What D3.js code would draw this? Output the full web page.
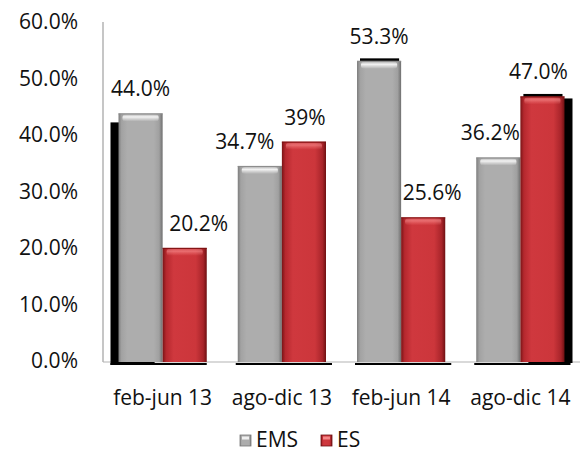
<html>
<head>
<meta charset="utf-8">
<title>EMS vs ES</title>
<script src="https://cdn.jsdelivr.net/npm/d3@7"></script>
<style>
  body { margin: 0; background: #fff; }
  text { font-family: "Open Sans", Lato, sans-serif; fill: #111; }
</style>
</head>
<body>
<script>
// data
var periods = ["feb-jun 13", "ago-dic 13", "feb-jun 14", "ago-dic 14"];
var series = ["EMS", "ES"];
var emsValues = [44.0, 34.7, 53.3, 36.2];
var esValues = [20.2, 39, 25.6, 47.0];
var valueLabels = [["44.0%", "20.2%"], ["34.7%", "39%"], ["53.3%", "25.6%"], ["36.2%", "47.0%"]];
var yTicks = [0, 10, 20, 30, 40, 50, 60];

// small label nudges so they don't collide (like excel did)
var labelDx = [[0, 14], [-15, 1], [0, 9], [-8, -4]];

var w = 582, h = 452;
var svg = d3.select("body").append("svg").attr("width", w).attr("height", h);

var x0 = d3.scaleBand().domain(periods).range([103, 580]).paddingInner(0.26).paddingOuter(0.13);
var x1 = d3.scaleBand().domain(series).range([0, x0.bandwidth()]);
var y = d3.scaleLinear().domain([0, 60]).range([362, 23]);

var rows = periods.map(function(p, i) {
    return { period: p, i: i, vals: [
        { s: "EMS", v: emsValues[i], label: valueLabels[i][0], dx: labelDx[i][0] },
        { s: "ES", v: esValues[i], label: valueLabels[i][1], dx: labelDx[i][1] }
    ] };
});

// gradients
var defs = svg.append("defs");
function hGrad(id, stops) {
    var g = defs.append("linearGradient").attr("id", id).attr("x1", 0).attr("x2", 1).attr("y1", 0).attr("y2", 0);
    stops.forEach(function(s) { g.append("stop").attr("offset", s[0]).attr("stop-color", s[1]); });
}
hGrad("gEMS", [[0, "#7d7d7d"], [0.07, "#a2a2a2"], [0.2, "#adadad"], [0.8, "#adadad"], [0.92, "#a0a0a0"], [1, "#6f6f6f"]]);
hGrad("gES", [[0, "#7a1416"], [0.08, "#b5282e"], [0.25, "#cf383e"], [0.75, "#cc363b"], [0.92, "#a8242a"], [1, "#6e1012"]]);
var tg = defs.append("linearGradient").attr("id", "gTop").attr("x1", 0).attr("x2", 0).attr("y1", 0).attr("y2", 1);
tg.append("stop").attr("offset", 0).attr("stop-color", "#fff").attr("stop-opacity", 0.15);
tg.append("stop").attr("offset", 0.35).attr("stop-color", "#fff").attr("stop-opacity", 0.85);
tg.append("stop").attr("offset", 1).attr("stop-color", "#fff").attr("stop-opacity", 0);
var tr = defs.append("linearGradient").attr("id", "gTopR").attr("x1", 0).attr("x2", 0).attr("y1", 0).attr("y2", 1);
tr.append("stop").attr("offset", 0).attr("stop-color", "#ffb0b0").attr("stop-opacity", 0.2);
tr.append("stop").attr("offset", 0.35).attr("stop-color", "#ff9a9a").attr("stop-opacity", 0.55);
tr.append("stop").attr("offset", 1).attr("stop-color", "#ff8080").attr("stop-opacity", 0);

// y axis labels
svg.append("g").selectAll("text").data(yTicks).enter().append("text")
    .attr("x", 78).attr("y", function(d) { return y(d) - 2; })
    .attr("text-anchor", "end").attr("dominant-baseline", "central")
    .style("font-size", "21px")
    .text(function(d) { return d.toFixed(1) + "%"; });

// axis lines
svg.append("line").attr("x1", 103).attr("x2", 103).attr("y1", 22).attr("y2", y(0))
    .attr("stroke", "#a0a0a0").attr("stroke-width", 1.2);
svg.append("line").attr("x1", 103).attr("x2", 580).attr("y1", y(0)).attr("y2", y(0))
    .attr("stroke", "#b4b4b4").attr("stroke-width", 1.2);

// black drop shadow, only peeks out at the outer ends of the chart
var shadowLayer = svg.append("g");
var firstBar = rows[0].vals[0], lastBar = rows[rows.length - 1].vals[1];
shadowLayer.append("rect")
    .attr("x", x0(periods[0]) + x1("EMS") - 8).attr("width", x1.bandwidth())
    .attr("y", y(firstBar.v) + 9).attr("height", y(0) + 3 - y(firstBar.v) - 9)
    .attr("fill", "#000");
shadowLayer.append("rect")
    .attr("x", x0(periods[3]) + x1("ES") + 8).attr("width", x1.bandwidth())
    .attr("y", y(lastBar.v) + 2).attr("height", y(0) + 1 - y(lastBar.v) - 2)
    .attr("fill", "#000");
// thin black shadow edges under the groups and above the tallest tops
rows.forEach(function(r) {
    shadowLayer.append("rect")
        .attr("x", x0(r.period) - 8 + (r.i === 0 ? 0 : 6)).attr("width", x0.bandwidth() + 8)
        .attr("y", y(0) + 1).attr("height", 2).attr("fill", "#000");
});
[rows[2].vals[0], lastBar].forEach(function(d, k) {
    var p = k === 0 ? periods[2] : periods[3];
    shadowLayer.append("rect")
        .attr("x", x0(p) + x1(d.s) + 3).attr("width", x1.bandwidth() - 5)
        .attr("y", y(d.v) - 2.5).attr("height", 4).attr("fill", "#000");
});

var groups = svg.selectAll(".grp").data(rows).enter().append("g").attr("class", "grp")
    .attr("transform", function(d) { return "translate(" + x0(d.period) + ",0)"; });

var bars = groups.selectAll("g.bar").data(function(d) { return d.vals; }).enter().append("g").attr("class", "bar");
bars.append("rect")
    .attr("x", function(d) { return x1(d.s); })
    .attr("width", x1.bandwidth())
    .attr("y", function(d) { return y(d.v); })
    .attr("height", function(d) { return y(0) - y(d.v); })
    .attr("fill", function(d) { return "url(#g" + d.s + ")"; });
// top bevel
bars.append("rect")
    .attr("x", function(d) { return x1(d.s) + 4; })
    .attr("width", x1.bandwidth() - 8)
    .attr("y", function(d) { return y(d.v) + 1; })
    .attr("height", 7).attr("rx", 3)
    .attr("fill", function(d) { return d.s === "EMS" ? "url(#gTop)" : "url(#gTopR)"; });
bars.append("line")
    .attr("x1", function(d) { return x1(d.s); })
    .attr("x2", function(d) { return x1(d.s) + x1.bandwidth(); })
    .attr("y1", function(d) { return y(d.v) + 0.5; })
    .attr("y2", function(d) { return y(d.v) + 0.5; })
    .attr("stroke", function(d) { return d.s === "EMS" ? "#8c8c8c" : "#7a1010"; });

// value labels
groups.selectAll("text.val").data(function(d) { return d.vals; }).enter().append("text")
    .attr("class", "val")
    .attr("x", function(d) { return x1(d.s) + x1.bandwidth() / 2 + d.dx; })
    .attr("y", function(d) { return y(d.v) - 17; })
    .attr("text-anchor", "middle")
    .style("font-size", "21px")
    .text(function(d) { return d.label; });

// category labels
svg.append("g").selectAll("text").data(periods).enter().append("text")
    .attr("x", function(d) { return x0(d) + x0.bandwidth() / 2; })
    .attr("y", 405)
    .attr("text-anchor", "middle")
    .style("font-size", "21px")
    .text(function(d) { return d; });

// legend
var legend = svg.append("g").attr("transform", "translate(240,435)");
var lx = [0, 81];
series.forEach(function(s, i) {
    var g = legend.append("g").attr("transform", "translate(" + lx[i] + ",0)");
    g.append("rect").attr("width", 11).attr("height", 11)
        .attr("fill", "url(#g" + s + ")").attr("stroke", s === "EMS" ? "#777" : "#6e1012").attr("stroke-width", 0.8);
    g.append("rect").attr("x", 2).attr("y", 1.5).attr("width", 7).attr("height", 3)
        .attr("fill", s === "EMS" ? "#fff" : "#ff9a9a").attr("opacity", 0.8);
    g.append("text").attr("x", 16).attr("y", 12).style("font-size", "21px").text(s);
});
</script>
</body>
</html>
